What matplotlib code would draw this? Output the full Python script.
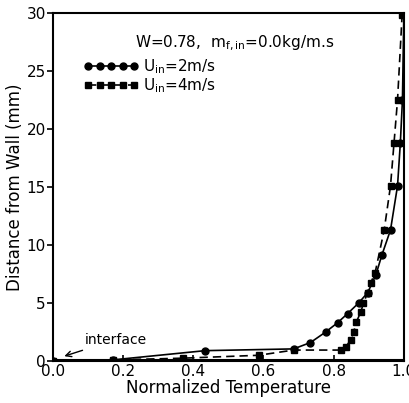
import matplotlib.pyplot as plt

# U_in = 2 m/s (solid, circles)
t_2 = [0.0, 0.17, 0.434, 0.686, 0.734, 0.777, 0.811, 0.84, 0.871, 0.897,
       0.92, 0.937, 0.962, 0.982, 0.99, 0.996, 1.0]
y_2 = [0.0, 0.1, 0.9, 1.05, 1.6, 2.5, 3.3, 4.1, 5.0, 5.9,
       7.4, 9.1, 11.3, 15.1, 18.8, 22.5, 29.8]

# U_in = 4 m/s (dashed, squares)
t_4 = [0.0, 0.17, 0.37, 0.586, 0.686, 0.82, 0.834, 0.848, 0.857, 0.865,
       0.877, 0.885, 0.897, 0.905, 0.918, 0.944, 0.962, 0.972, 0.982, 0.995]
y_4 = [0.0, 0.1, 0.25, 0.5, 0.95, 0.95, 1.2, 1.8, 2.5, 3.4,
       4.2, 5.0, 5.9, 6.7, 7.6, 11.3, 15.1, 18.8, 22.5, 29.8]

# line along the wall
t_wall = [0.0, 1.0]
y_wall = [0.1, 0.1]

plt.rcParams['font.family'] = 'DejaVu Sans'

fig = plt.figure(figsize=(4.1, 4.03), dpi=100)
ax = fig.add_axes([0.129, 0.104, 0.856, 0.864])

ax.plot(t_wall, y_wall, color='black', lw=1.5)
ax.plot(t_2, y_2, '-', color='black', lw=1.2, marker='o', ms=5,
        label=r'U$_{\rm in}$=2m/s')
ax.plot(t_4, y_4, '--', color='black', lw=1.2, marker='s', ms=5,
        dashes=(5, 3), label=r'U$_{\rm in}$=4m/s')

ax.set_xlim(0, 1.0)
ax.set_ylim(0, 30)
ax.set_xticks([0.0, 0.2, 0.4, 0.6, 0.8, 1.0])
ax.set_xticklabels(['0.0', '0.2', '0.4', '0.6', '0.8', '1.0'])
ax.set_yticks([0, 5, 10, 15, 20, 25, 30])
ax.tick_params(axis='both', labelsize=11, length=4, width=1.2)
ax.tick_params(axis='x', direction='in', pad=2)
ax.tick_params(axis='y', direction='out', pad=1)
for s in ax.spines.values():
    s.set_linewidth(1.5)

ax.set_xlabel('Normalized Temperature', fontsize=12, labelpad=0)
ax.set_ylabel('Distance from Wall (mm)', fontsize=12, labelpad=2)

ax.text(0.235, 0.912, r'W=0.78,  m$_{\rm f,in}$=0.0kg/m.s', transform=ax.transAxes,
        fontsize=11, va='center')
leg = ax.legend(loc='upper left', bbox_to_anchor=(0.07, 0.89), frameon=False,
                fontsize=11, numpoints=5, handlelength=3.6, handletextpad=0.3,
                labelspacing=0.0, borderaxespad=0)

ax.annotate('interface', xy=(0.025, 0.35), xytext=(0.09, 1.5), fontsize=10,
            arrowprops=dict(arrowstyle='->', color='black', lw=1))

fig.savefig('out.png', dpi=100)
